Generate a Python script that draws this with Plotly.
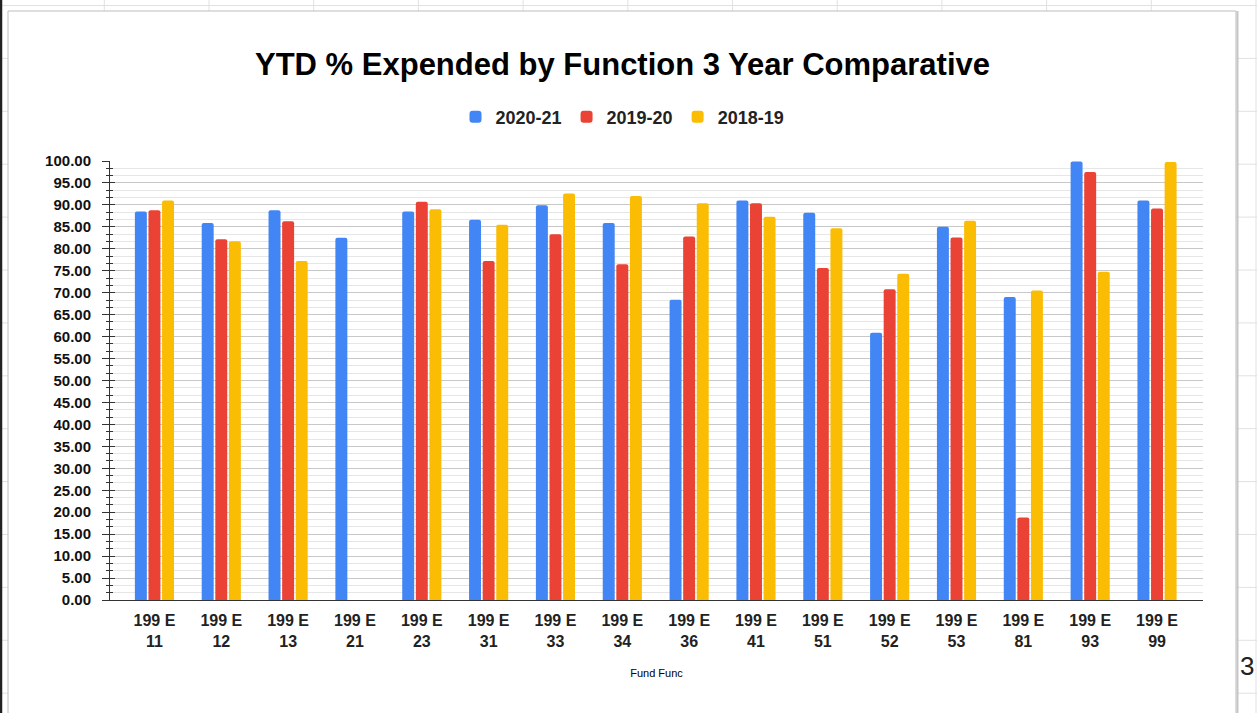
import plotly.graph_objects as go

# ---- data ----
codes = ["11", "12", "13", "21", "23", "31", "33", "34", "36", "41", "51", "52", "53", "81", "93", "99"]
fund = "199 E"
series_names = ["2020-21", "2019-20", "2018-19"]
y_2020_21 = [88.5, 85.9, 88.8, 82.5, 88.5, 86.6, 89.9, 85.9, 68.4, 91.0, 88.2, 60.9, 85.0, 69.0, 99.9, 91.0]
y_2019_20 = [88.8, 82.2, 86.3, None, 90.7, 77.2, 83.3, 76.5, 82.8, 90.4, 75.6, 70.8, 82.6, 18.8, 97.5, 89.2]
y_2018_19 = [91.0, 81.7, 77.2, None, 89.0, 85.5, 92.6, 92.0, 90.4, 87.3, 84.7, 74.3, 86.4, 70.5, 74.8, 99.8]
colors = ["#4285F4", "#EA4335", "#FBBC04"]

categories = [f"{fund} {c}" for c in codes]
tick_text = [f"{fund}<br>{c}" for c in codes]

W, H = 1257, 713
L, R, T, B = 110, 1203, 161, 600
FONT = "Liberation Sans, Arial, sans-serif"


def px(x):
    return (x - L) / (R - L)


def py(y):
    return (B - y) / (B - T)


fig = go.Figure()
for name, vals, col in zip(series_names, [y_2020_21, y_2019_20, y_2018_19], colors):
    fig.add_trace(go.Bar(
        x=categories, y=vals, name=name,
        marker=dict(color=col, cornerradius=2, line=dict(width=0)),
    ))
# dummy trace to host the inner-tick overlay axis
fig.add_trace(go.Scatter(x=[], y=[], yaxis="y2", showlegend=False, hoverinfo="skip"))

shapes = []
# spreadsheet cell grid behind the chart
k = 0
while 5.5 + 52.9 * k <= H:
    yy = 5.5 + 52.9 * k
    shapes.append(dict(type="line", xref="paper", yref="paper", layer="below",
                       x0=px(0), x1=px(W), y0=py(yy), y1=py(yy),
                       line=dict(color="#e1e1e1", width=1)))
    k += 1
k = 0
while 104.3 + 104.7 * k <= W:
    xx = 104.3 + 104.7 * k
    shapes.append(dict(type="line", xref="paper", yref="paper", layer="below",
                       x0=px(xx), x1=px(xx), y0=py(0), y1=py(H),
                       line=dict(color="#e1e1e1", width=1)))
    k += 1
# chart card
shapes.append(dict(type="rect", xref="paper", yref="paper", layer="below",
                   x0=px(8), x1=px(1236), y0=py(11), y1=py(730),
                   fillcolor="white", line=dict(color="#bdbdbd", width=1)))
shapes.append(dict(type="line", xref="paper", yref="paper", layer="below",
                   x0=px(1237.5), x1=px(1237.5), y0=py(11), y1=py(H),
                   line=dict(color="#c6c6c6", width=2)))
# dark frozen-pane line on the left edge
shapes.append(dict(type="line", xref="paper", yref="paper", layer="below",
                   x0=px(1), x1=px(1), y0=py(0), y1=py(H),
                   line=dict(color="#222222", width=2.5)))

fig.update_layout(
    width=W, height=H, autosize=False,
    margin=dict(l=L, r=W - R, t=T, b=H - B),
    paper_bgcolor="white", plot_bgcolor="rgba(0,0,0,0)",
    font=dict(family=FONT, color="#222222"),
    title=dict(text="YTD % Expended by Function 3 Year Comparative",
               font=dict(family=FONT, size=31, color="#000000", weight="bold"),
               xref="container", yref="container",
               x=622.5 / W, xanchor="center", y=1 - 64 / H, yanchor="middle"),
    barmode="group", bargap=0.39, bargroupgap=0.12,
    legend=dict(orientation="h", x=px(622.5), xanchor="center",
                y=py(117), yanchor="middle",
                font=dict(family=FONT, size=18, color="#222222", weight="bold"),
                bgcolor="rgba(0,0,0,0)", itemwidth=30),
    xaxis=dict(
        range=[-0.665, 15.688], tickmode="array",
        tickvals=categories, ticktext=tick_text,
        tickfont=dict(family=FONT, size=16, color="#222222", weight="bold"),
        showline=True, linecolor="#333333", linewidth=1,
        showgrid=False, ticks="", ticklabelstandoff=6,
        title=dict(text="Fund Func", font=dict(family=FONT, size=11, color="#000000"),
                   standoff=20),
    ),
    yaxis=dict(
        range=[0, 100], dtick=5, tickformat=".2f",
        tickfont=dict(family=FONT, size=15, color="#111111", weight="bold"),
        showline=True, linecolor="#333333", linewidth=1,
        ticks="outside", ticklen=7, tickcolor="#333333", tickwidth=1,
        ticklabelstandoff=8,
        showgrid=True, gridcolor="#c8c8c8", gridwidth=1, zeroline=False,
        minor=dict(dtick=5 / 3, ticks="outside", ticklen=3, tickcolor="#333333",
                   showgrid=True, gridcolor="#e6e6e6", gridwidth=1),
    ),
    yaxis2=dict(
        overlaying="y", anchor="x", side="left", range=[0, 100], dtick=5,
        ticks="inside", ticklen=5, tickcolor="#333333", tickwidth=1,
        showticklabels=False, showgrid=False, showline=False, zeroline=False,
        minor=dict(dtick=5 / 3, ticks="inside", ticklen=3, tickcolor="#333333",
                   showgrid=False),
    ),
    shapes=shapes,
    annotations=[dict(text="3", xref="paper", yref="paper", x=px(1256), xanchor="right",
                      y=py(666), yanchor="middle", showarrow=False,
                      font=dict(family=FONT, size=26, color="#222222"))],
)

fig.write_html("out.html",
               config={"displayModeBar": False},
               post_script="document.body.style.margin='0px';document.body.style.overflow='hidden';")
